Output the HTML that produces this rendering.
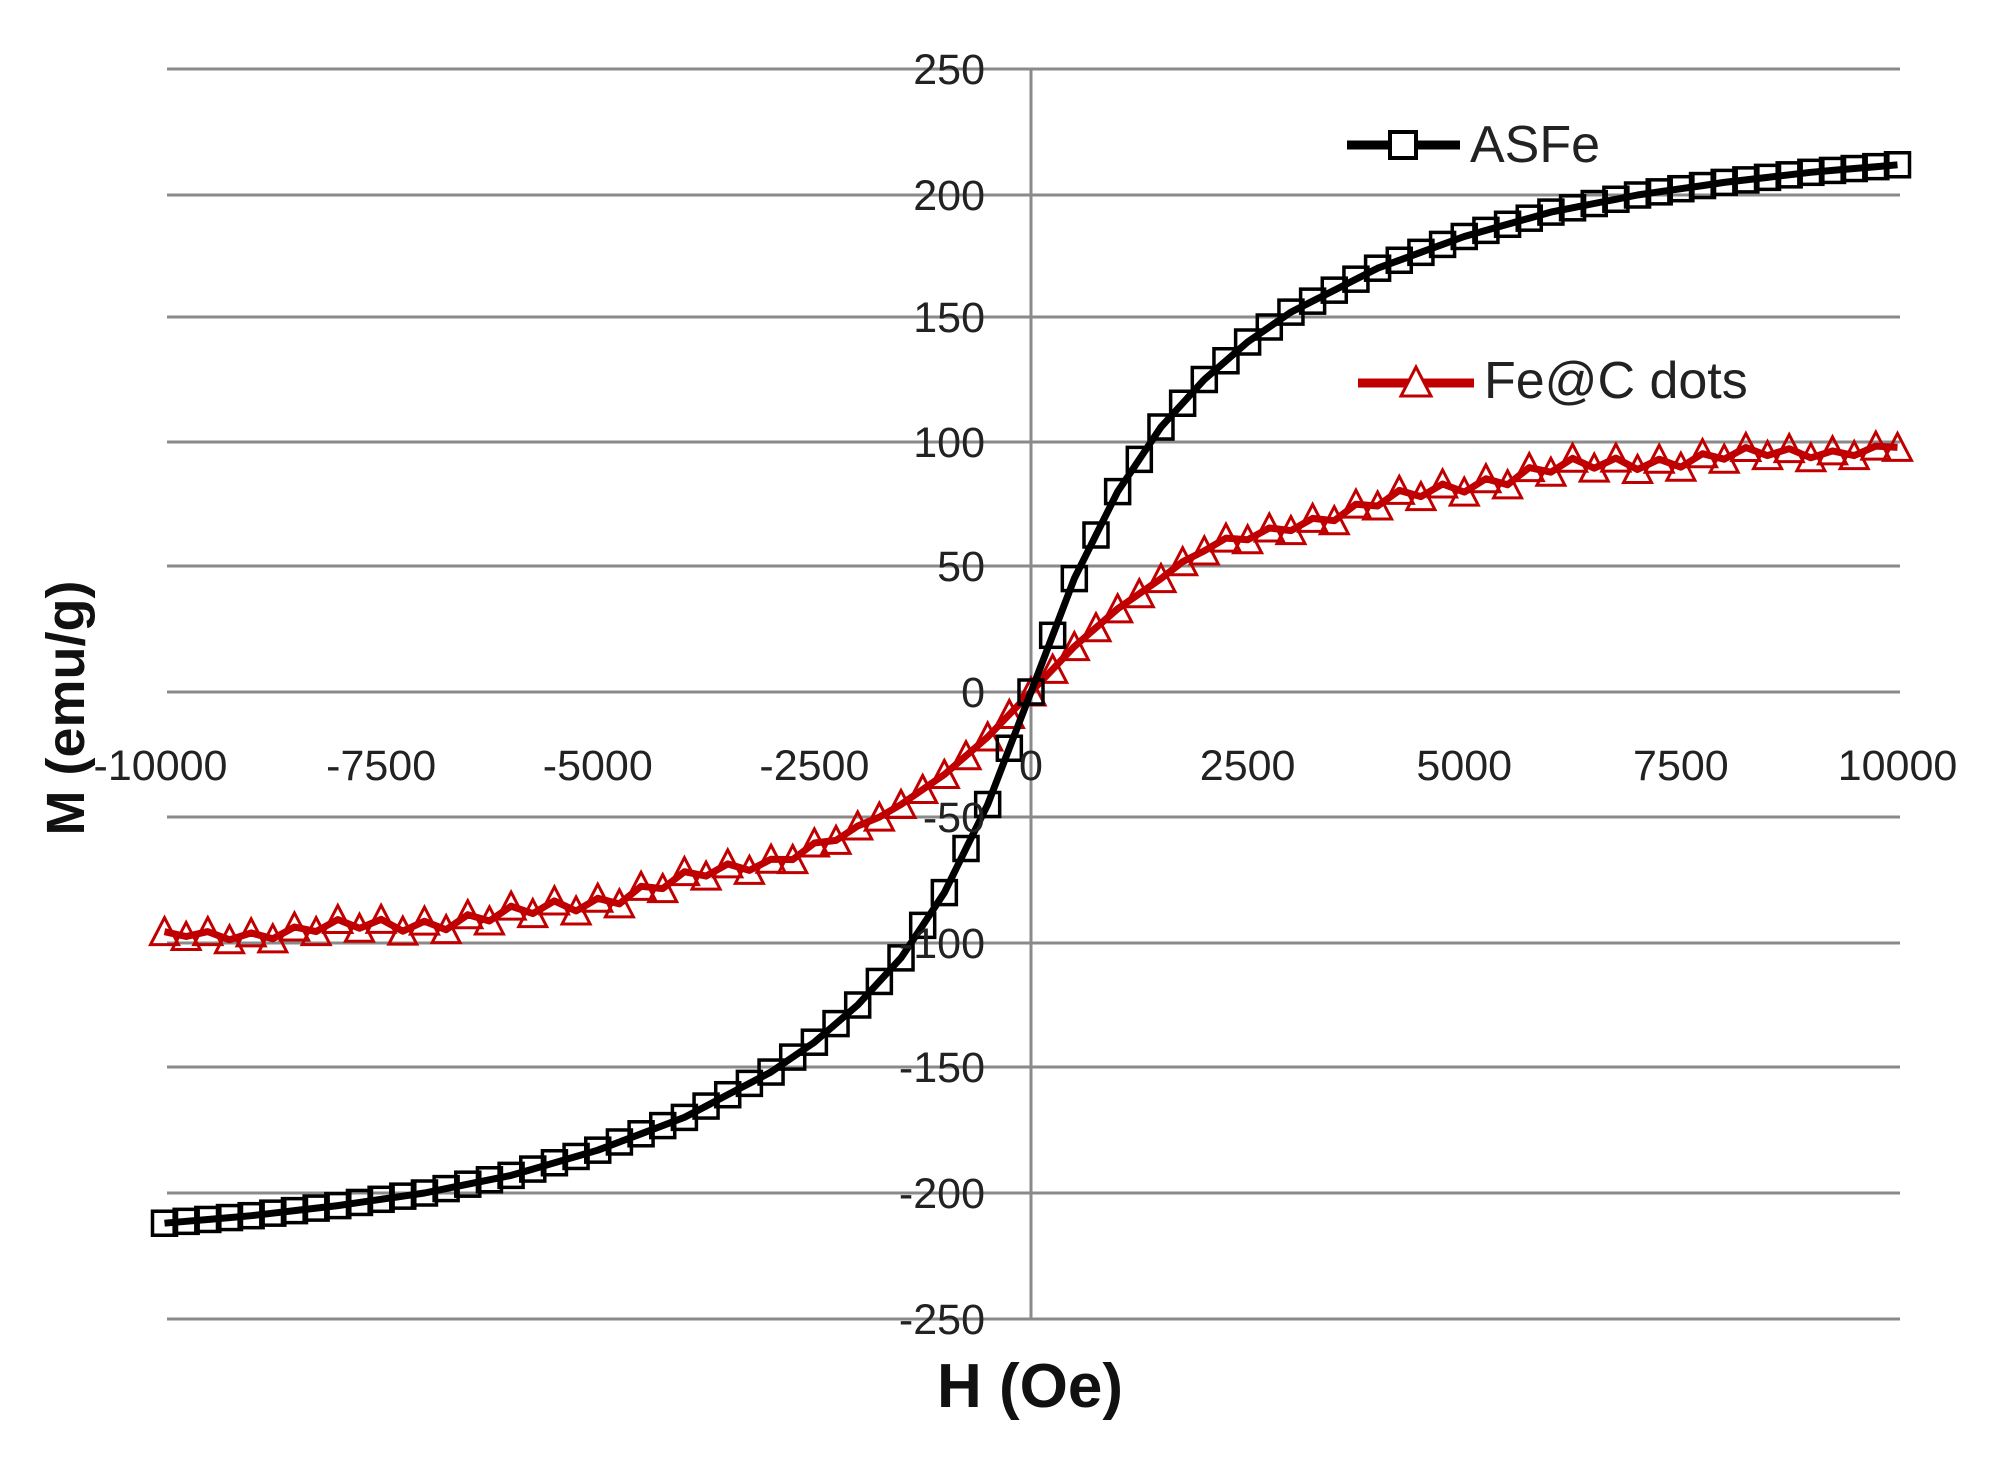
<!DOCTYPE html>
<html><head><meta charset="utf-8"><style>
html,body{margin:0;padding:0;background:#fff;width:2009px;height:1475px;overflow:hidden}
svg{display:block}
text{font-family:"Liberation Sans",sans-serif}
</style></head><body>
<svg id="s" width="2009" height="1475" xmlns="http://www.w3.org/2000/svg">
<g id="grid" stroke="#8a8a8a" stroke-width="3"></g>
<g id="series"></g>
<g id="labels" font-size="43" fill="#222"></g>
<text x="1030" y="1407" font-size="62" font-weight="bold" text-anchor="middle" fill="#111">H (Oe)</text>
<text transform="translate(84,708) rotate(-90)" font-size="54" font-weight="bold" text-anchor="middle" fill="#111">M (emu/g)</text>
<line x1="1347" y1="145" x2="1460" y2="145" stroke="#000" stroke-width="9"/>
<rect x="1390" y="132" width="26" height="26" fill="#fff" stroke="#000" stroke-width="4"/>
<text x="1470" y="162" font-size="52" fill="#222">ASFe</text>
<line x1="1358" y1="383" x2="1474" y2="383" stroke="#c00000" stroke-width="9"/>
<polygon points="1416,367 1401,396 1431,396" fill="#fff" stroke="#c00000" stroke-width="3"/>
<text x="1484" y="398" font-size="52" fill="#222">Fe@C dots</text>
</svg>
<script>
var ns="http://www.w3.org/2000/svg";
function el(t,a,p){var e=document.createElementNS(ns,t);for(var k in a)e.setAttribute(k,a[k]);p.appendChild(e);return e;}
var gy=[69,195,317,442,566,692,817,943,1067,1193,1319];
var G=document.getElementById('grid'),L=document.getElementById('labels'),S=document.getElementById('series');
var x0=167,x1=1900,xc=1031;
gy.forEach(function(y,i){el('line',{x1:x0,y1:y,x2:x1,y2:y},G);
 var t=el('text',{x:985,y:y+15,'text-anchor':'end'},L);t.textContent=String(250-50*i);});
el('line',{x1:xc,y1:69,x2:xc,y2:1319},G);
function X(h){return xc+h*(x1-x0)/20000;}
function Y(m){var v=(250-m)/50;var i=Math.min(9,Math.max(0,Math.floor(v)));return gy[i]+(v-i)*(gy[i+1]-gy[i]);}
var xt=[-10000,-7500,-5000,-2500,0,2500,5000,7500,10000];
xt.forEach(function(h){var t=el('text',{x:X(h)+(h==-10000?-4:0),y:780,'text-anchor':'middle'},L);t.textContent=String(h);});
function interp(tab,h){var s=h<0?-1:1,a=Math.abs(h);for(var i=1;i<tab.length;i++){if(a<=tab[i][0]){var p=tab[i-1],q=tab[i];return s*(p[1]+(q[1]-p[1])*(a-p[0])/(q[0]-p[0]));}}return s*tab[tab.length-1][1];}
var A=[[0,0],[500,45],[1000,80],[1500,106],[2000,125],[2500,140],[3000,152],[4000,170],[5000,183],[6000,193],[7000,200],[8000,205],[9000,209],[10000,212]];
var F=[[0,0],[500,18],[1000,33],[1500,45],[2000,56],[2500,61],[3000,67],[4000,75],[5000,83],[6000,89],[7000,92],[8000,94],[9000,96],[10000,98]];
var ptsA=[],ptsF=[];
for(var h=-10000;h<=10000;h+=250){ptsA.push([X(h),Y(interp(A,h))]);
 var n=Math.sin(h*0.0123)*2.2+Math.sin(h*0.0031+1)*1.5;ptsF.push([X(h),Y(interp(F,h)+(Math.abs(h)>1500?n:0))]);}
function pl(p){return p.map(function(q){return q[0].toFixed(1)+','+q[1].toFixed(1)}).join(' ');}
el('polyline',{points:pl(ptsF),fill:'none',stroke:'#c00000','stroke-width':7,'stroke-linejoin':'round'},S);
ptsF.forEach(function(q){var x=q[0],y=q[1];el('polygon',{points:(x)+','+(y-14)+' '+(x-14)+','+(y+13)+' '+(x+14)+','+(y+13),fill:'none',stroke:'#c00000','stroke-width':3},S);});
el('polyline',{points:pl(ptsA),fill:'none',stroke:'#000','stroke-width':7,'stroke-linejoin':'round'},S);
ptsA.forEach(function(q){el('rect',{x:q[0]-12,y:q[1]-12,width:24,height:24,fill:'none',stroke:'#000','stroke-width':3.5},S);});
</script>
</body></html>
